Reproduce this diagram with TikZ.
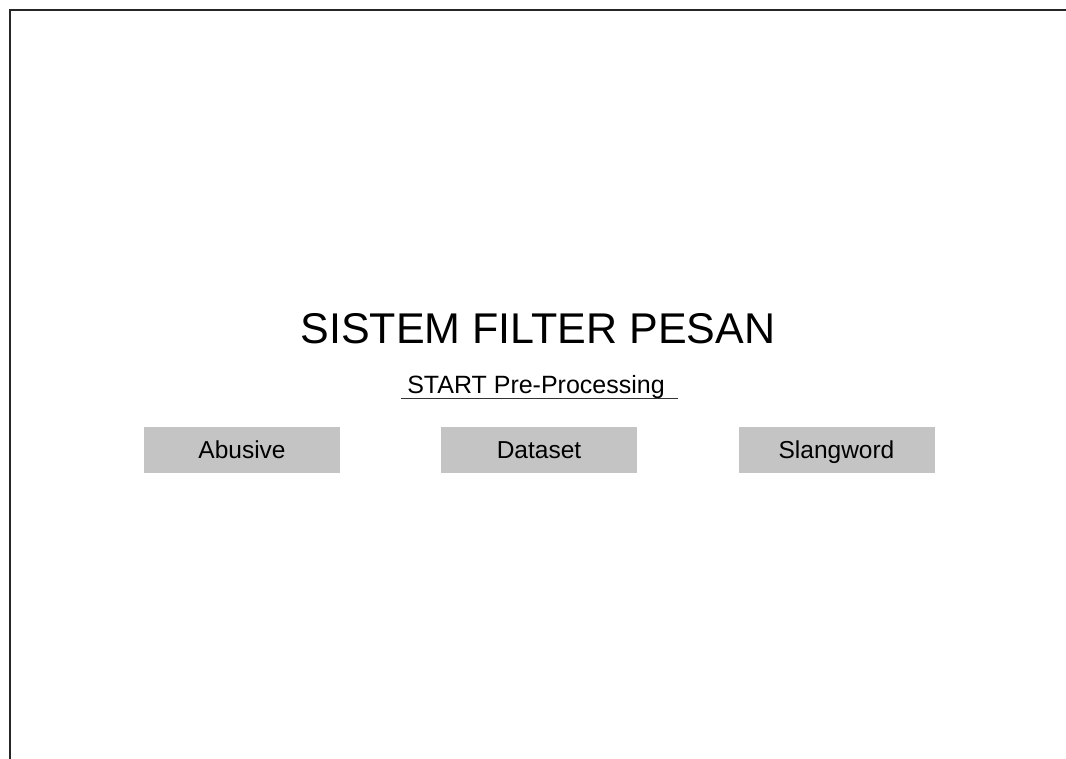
\documentclass[tikz,border=0pt]{standalone}
\usepackage{fontspec}
\setmainfont{Liberation Sans}
\begin{document}
\begin{tikzpicture}[x=1pt,y=-1pt,
  frame/.style={line width=2pt,draw=black!85},
  boxstyle/.style={fill=boxgray,draw=none,minimum width=196pt,minimum height=46pt,inner sep=0pt,text height=20pt,text depth=4pt,font=\fontsize{24.5}{28}\selectfont},
  titlestyle/.style={inner sep=0pt,font=\fontsize{43}{50}\selectfont},
  subtitle/.style={inner sep=0pt,font=\fontsize{25}{28}\selectfont}]
\definecolor{boxgray}{RGB}{196,196,196}
\useasboundingbox (0,0) rectangle (1066,758);
\fill[white] (0,0) rectangle (1066,758);
\draw[frame] (9.5,760) -- (9.5,9.5) -- (1068,9.5);
\node[titlestyle,anchor=base] (title) at (538,343) {SISTEM FILTER PESAN};
\node[subtitle,anchor=base] (start) at (536,393) {START Pre-Processing};
\coordinate (ulL) at (401,398.5);
\coordinate (ulR) at (678,398.5);
\draw[line width=1pt,draw=black!80] (ulL) -- (ulR);
\node[boxstyle] (abusive) at (242,450) {Abusive};
\node[boxstyle] (dataset) at (539,450) {Dataset};
\node[boxstyle] (slangword) at (836.5,450) {Slangword};
\end{tikzpicture}
\end{document}
